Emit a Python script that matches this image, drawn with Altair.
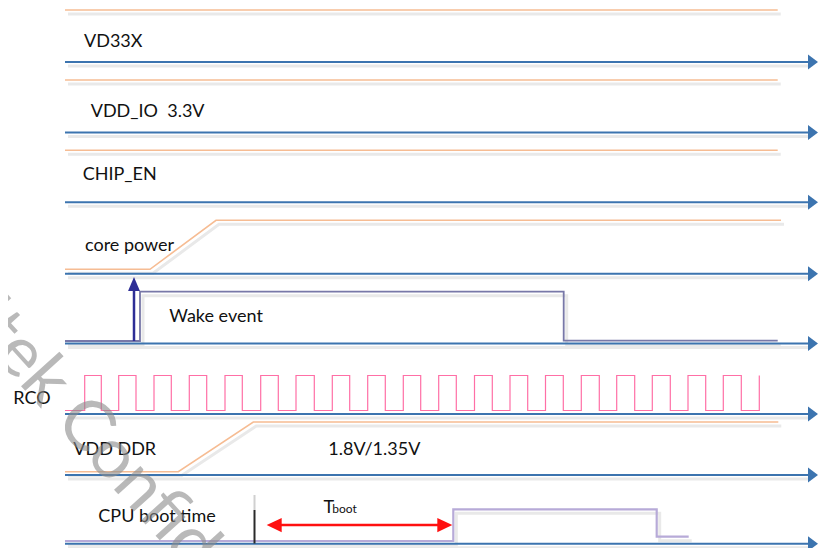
import altair as alt
import pandas as pd

# ---------------- data (time units along x, level units along y) ----------------
lane_labels = ["VD33X", "VDD_IO \u00a03.3V", "CHIP_EN", "core power", "Wake event",
               "RCO", "VDD DDR", "CPU boot time"]
label_t = [84, 90.7, 82.7, 85, 169.3, 13.3, 73.3, 98.3]
label_v = [46.5, 116.5, 180, 251, 322.3, 404.3, 455.3, 522]

axis_levels = [62, 132.5, 202.3, 273.7, 343.5, 414, 475, 543.7]
axis_start = 65
axis_end = 810
arrow_tip = 813

flat_levels = [10, 80, 150.3]
flat_start = 65
flat_end = 777.7

core_t = [65, 150, 216, 781]
core_v = [269.3, 269.3, 220.3, 220.3]

ddr_t = [65, 178.3, 253.3, 778.3]
ddr_v = [471.7, 471.7, 422, 422]

wake_t = [65, 140, 140, 563.7, 563.7, 777.7]
wake_v = [341, 341, 291.7, 291.7, 340.7, 340.7]
wake_arrow_t = 134
wake_arrow_v = [341, 284]

cpu_t = [65, 453.3, 453.3, 656.7, 656.7, 688.7]
cpu_v = [541, 541, 509.3, 509.3, 536.7, 536.7]

rco_low = 410.5
rco_high = 375.5
rco_rise = [84.7, 118.7, 154, 189.3, 225, 260.7, 296, 332.3, 367.7, 403.3,
            438.7, 474.5, 510, 545.5, 581.3, 616.7, 652.3, 688, 723.3, 759.3]
rco_fall = [101.3, 136, 171.3, 206.7, 242.3, 278.3, 314.3, 349.7, 385.3, 420.7,
            456.3, 492.3, 527.7, 563.3, 599.3, 634.7, 670.3, 705.7, 741.3]

boot_start_t = 254.5
boot_marker_v = [495, 510, 543.5]
tboot_t = [266.7, 452.3]
tboot_v = 525

extra_text = ["1.8V/1.35V"]
extra_t = [328.3]
extra_v = [455.3]

watermark = "Realtek Confidential"

# ---------------- colours ----------------
BLUE = "#3C74AF"
ORANGE = "#F6BC93"
WAKE = "#7878A8"
NAVY = "#2E2E96"
PINK = "#FF6FA6"
LAVENDER = "#B7AAD8"
RED = "#FF1010"
SHADOW = "#E9E9E9"
FONT = "Lato"

X = alt.Scale(domain=[8, 819], nice=False, zero=False)
Y = alt.Scale(domain=[8, 548], nice=False, zero=False, reverse=True)


def xe(f="t"):
    return alt.X(f"{f}:Q", scale=X, axis=None)


def ye(f="v"):
    return alt.Y(f"{f}:Q", scale=Y, axis=None)


rows = []


def add_path(name, ts, vs):
    for i, (t, v) in enumerate(zip(ts, vs)):
        rows.append({"sig": name, "i": i, "t": t, "v": v})


for k, lv in enumerate(flat_levels):
    add_path(f"flat{k}", [flat_start, flat_end], [lv, lv])
add_path("core", core_t, core_v)
add_path("ddr", ddr_t, ddr_v)
orange_df = pd.DataFrame(rows)

rows = []
add_path("wake", wake_t, wake_v)
wake_df = pd.DataFrame(rows)

rows = []
add_path("cpu", cpu_t, cpu_v)
cpu_df = pd.DataFrame(rows)

rco_t, rco_v = [65], [rco_low]
for i, r in enumerate(rco_rise):
    rco_t += [r, r]
    rco_v += [rco_low, rco_high]
    if i < len(rco_fall):
        rco_t += [rco_fall[i], rco_fall[i]]
        rco_v += [rco_high, rco_low]
rows = []
add_path("rco", rco_t, rco_v)
rco_df = pd.DataFrame(rows)

axis_df = pd.DataFrame({"v": axis_levels, "t": [axis_start] * len(axis_levels),
                        "t2": [axis_end] * len(axis_levels),
                        "tip": [arrow_tip] * len(axis_levels)})

label_df = pd.DataFrame({"text": lane_labels + extra_text,
                         "t": label_t + extra_t, "v": label_v + extra_v})


def path_layer(df, color, width, shadow=True):
    base = alt.Chart(df)
    enc = dict(x=xe(), y=ye(), detail="sig:N", order="i:Q")
    main = base.mark_line(color=color, strokeWidth=width, interpolate="linear").encode(**enc)
    if not shadow:
        return [main]
    sh = base.mark_line(color=SHADOW, strokeWidth=3, xOffset=3, yOffset=4).encode(**enc)
    return [sh, main]


layers = []

axis_base = alt.Chart(axis_df)
layers.append(axis_base.mark_rule(color=SHADOW, strokeWidth=3, xOffset=3, yOffset=4).encode(
    x=xe(), x2="t2:Q", y=ye()))
layers += path_layer(orange_df, ORANGE, 1.6)
layers += path_layer(wake_df, WAKE, 1.8)
layers += path_layer(cpu_df, LAVENDER, 2.2)
layers += path_layer(rco_df, PINK, 1.2, shadow=False)
layers.append(axis_base.mark_rule(color=BLUE, strokeWidth=2).encode(x=xe(), x2="t2:Q", y=ye()))
layers.append(axis_base.mark_point(shape="M-1,-1.5L1,0L-1,1.5Z", filled=True, size=100,
                                   color=BLUE, opacity=1).encode(x=xe("tip"), y=ye()))

wa_df = pd.DataFrame({"t": [wake_arrow_t], "v": [wake_arrow_v[0]], "v2": [wake_arrow_v[1]]})
layers.append(alt.Chart(wa_df).mark_rule(color=NAVY, strokeWidth=2.5).encode(
    x=xe(), y=ye(), y2="v2:Q"))
layers.append(alt.Chart(wa_df).mark_point(shape="M0,-1L0.85,1L-0.85,1Z", filled=True,
                                          size=196, color=NAVY, opacity=1).encode(
    x=xe(), y=ye("v2")))

bm_df = pd.DataFrame({"t": [boot_start_t, boot_start_t],
                      "v": [boot_marker_v[0], boot_marker_v[1]],
                      "v2": [boot_marker_v[1], boot_marker_v[2]],
                      "c": ["#D0D0D0", "#2A2A2A"]})
layers.append(alt.Chart(bm_df).mark_rule(strokeWidth=2).encode(
    x=xe(), y=ye(), y2="v2:Q", color=alt.Color("c:N", scale=None)))

tb_df = pd.DataFrame({"t": [tboot_t[0] + 12], "t2": [tboot_t[1] - 12], "v": [tboot_v]})
layers.append(alt.Chart(tb_df).mark_rule(color=RED, strokeWidth=2.5).encode(
    x=xe(), x2="t2:Q", y=ye()))
heads = pd.DataFrame({"t": [tboot_t[0] + 7.5, tboot_t[1] - 7.5], "v": [tboot_v, tboot_v],
                      "s": ["L", "R"]})
layers.append(alt.Chart(heads[heads.s == "L"]).mark_point(
    shape="M-1,0L1,-0.95L1,0.95Z", filled=True, size=225, color=RED, opacity=1).encode(
    x=xe(), y=ye()))
layers.append(alt.Chart(heads[heads.s == "R"]).mark_point(
    shape="M1,0L-1,-0.95L-1,0.95Z", filled=True, size=225, color=RED, opacity=1).encode(
    x=xe(), y=ye()))

layers.append(alt.Chart(label_df).mark_text(align="left", baseline="alphabetic", font=FONT,
                                            fontSize=18, color="#111111").encode(
    x=xe(), y=ye(), text="text:N"))
tl = pd.DataFrame({"text": ["T", "boot"], "t": [323.5, 332.3], "v": [512.7, 513.3],
                   "fs": [18, 12]})
layers.append(alt.Chart(tl).mark_text(align="left", baseline="alphabetic", font=FONT,
                                      color="#111111").encode(
    x=xe(), y=ye(), text="text:N", size=alt.Size("fs:Q", scale=None)))

wm = pd.DataFrame({"text": [watermark], "t": [-95], "v": [226]})
layers.append(alt.Chart(wm).mark_text(align="left", baseline="middle", font=FONT,
                                      fontSize=70, angle=48, color="#8C8C8C",
                                      opacity=0.6).encode(
    x=xe(), y=ye(), text="text:N"))

chart = alt.layer(*layers).properties(
    width=811, height=540,
    autosize=alt.AutoSizeParams(type="none"),
    padding=0,
).configure_view(stroke=None)

chart.save("out.html", embed_options={"renderer": "svg", "actions": False})
